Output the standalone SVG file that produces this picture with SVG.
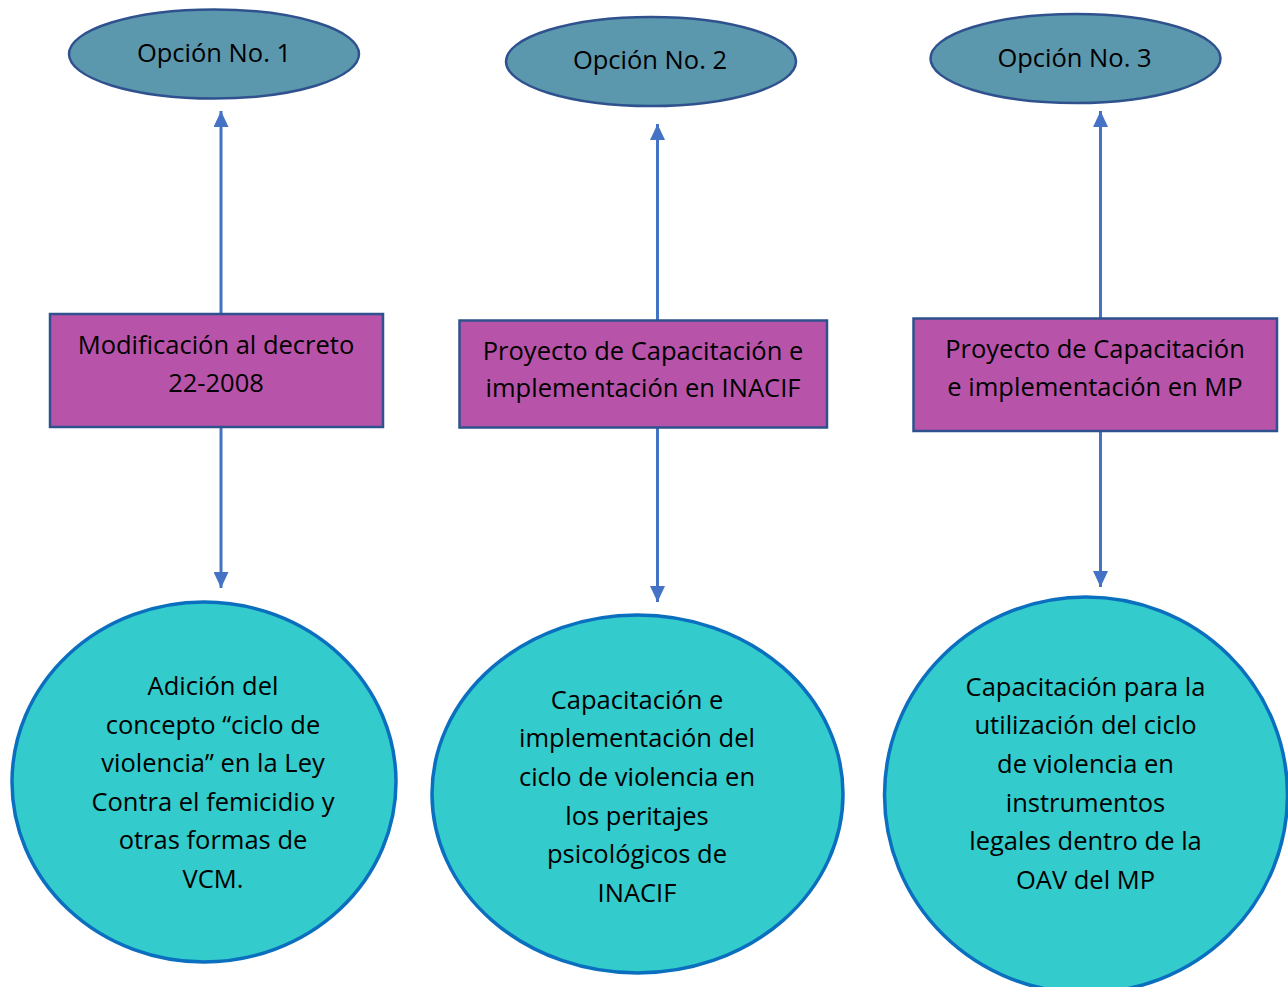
<svg xmlns="http://www.w3.org/2000/svg" width="1288" height="987" viewBox="0 0 1288 987">
<style>
.opt{fill:#5B97AD;stroke:#2F528F;stroke-width:2.5}
.box{fill:#B853AA;stroke:#2F528F;stroke-width:2.5}
.res{fill:#33CBCB;stroke:#0B6FC0;stroke-width:3.5}
.t{font-family:"Open Sans","Liberation Sans",sans-serif;font-size:25.5px;fill:#000;text-anchor:middle}
.c{stroke:#4472C4;stroke-width:3;fill:none;marker-end:url(#ah)}
</style>
<defs>
<marker id="ah" markerUnits="userSpaceOnUse" markerWidth="16" markerHeight="15" refX="16" refY="7.5" orient="auto">
<path d="M0,0 L16,7.5 L0,15 z" fill="#4472C4"/>
</marker>
</defs>
<rect width="1288" height="987" fill="#fff"/>
<g id="connectors">
<line class="c" x1="221" y1="314" x2="221" y2="111"/>
<line class="c" x1="221" y1="427" x2="221" y2="588"/>
<line class="c" x1="657.5" y1="320" x2="657.5" y2="124"/>
<line class="c" x1="657.5" y1="428" x2="657.5" y2="602"/>
<line class="c" x1="1100.5" y1="318" x2="1100.5" y2="111"/>
<line class="c" x1="1100.5" y1="431" x2="1100.5" y2="587"/>
</g>
<g id="opcion1">
<ellipse class="opt" cx="214" cy="54" rx="145" ry="44.5"/>
<text class="t" x="214" y="62">Opción No. 1</text>
</g>
<g id="opcion2">
<ellipse class="opt" cx="651" cy="61.5" rx="145" ry="44.5"/>
<text class="t" x="650" y="69">Opción No. 2</text>
</g>
<g id="opcion3">
<ellipse class="opt" cx="1075.5" cy="58.5" rx="145" ry="44.5"/>
<text class="t" x="1074.5" y="67">Opción No. 3</text>
</g>
<g id="modificacion">
<rect class="box" x="50" y="314" width="333" height="113"/>
<text class="t" x="216" y="354">Modificación al decreto</text>
<text class="t" x="216" y="392">22-2008</text>
</g>
<g id="proyecto-inacif">
<rect class="box" x="459.5" y="320.5" width="367.5" height="107"/>
<text class="t" x="643" y="360">Proyecto de Capacitación e</text>
<text class="t" x="643" y="397">implementación en INACIF</text>
</g>
<g id="proyecto-mp">
<rect class="box" x="913.5" y="318.5" width="363.5" height="112.5"/>
<text class="t" x="1095" y="358">Proyecto de Capacitación</text>
<text class="t" x="1095" y="396">e implementación en MP</text>
</g>
<g id="adicion">
<ellipse class="res" cx="204" cy="782" rx="192" ry="180"/>
<text class="t" x="213" y="695">Adición del</text>
<text class="t" x="213" y="734">concepto “ciclo de</text>
<text class="t" x="213" y="772">violencia” en la Ley</text>
<text class="t" x="213" y="811">Contra el femicidio y</text>
<text class="t" x="213" y="849">otras formas de</text>
<text class="t" x="213" y="888">VCM.</text>
</g>
<g id="capacitacion-inacif">
<ellipse class="res" cx="637.5" cy="794" rx="205.5" ry="179"/>
<text class="t" x="637" y="709">Capacitación e</text>
<text class="t" x="637" y="747">implementación del</text>
<text class="t" x="637" y="786">ciclo de violencia en</text>
<text class="t" x="637" y="825">los peritajes</text>
<text class="t" x="637" y="863">psicológicos de</text>
<text class="t" x="637" y="902">INACIF</text>
</g>
<g id="capacitacion-mp">
<ellipse class="res" cx="1086" cy="795" rx="201.5" ry="198"/>
<text class="t" x="1085.5" y="696">Capacitación para la</text>
<text class="t" x="1085.5" y="734">utilización del ciclo</text>
<text class="t" x="1085.5" y="773">de violencia en</text>
<text class="t" x="1085.5" y="812">instrumentos</text>
<text class="t" x="1085.5" y="850">legales dentro de la</text>
<text class="t" x="1085.5" y="889">OAV del MP</text>
</g>
</svg>
